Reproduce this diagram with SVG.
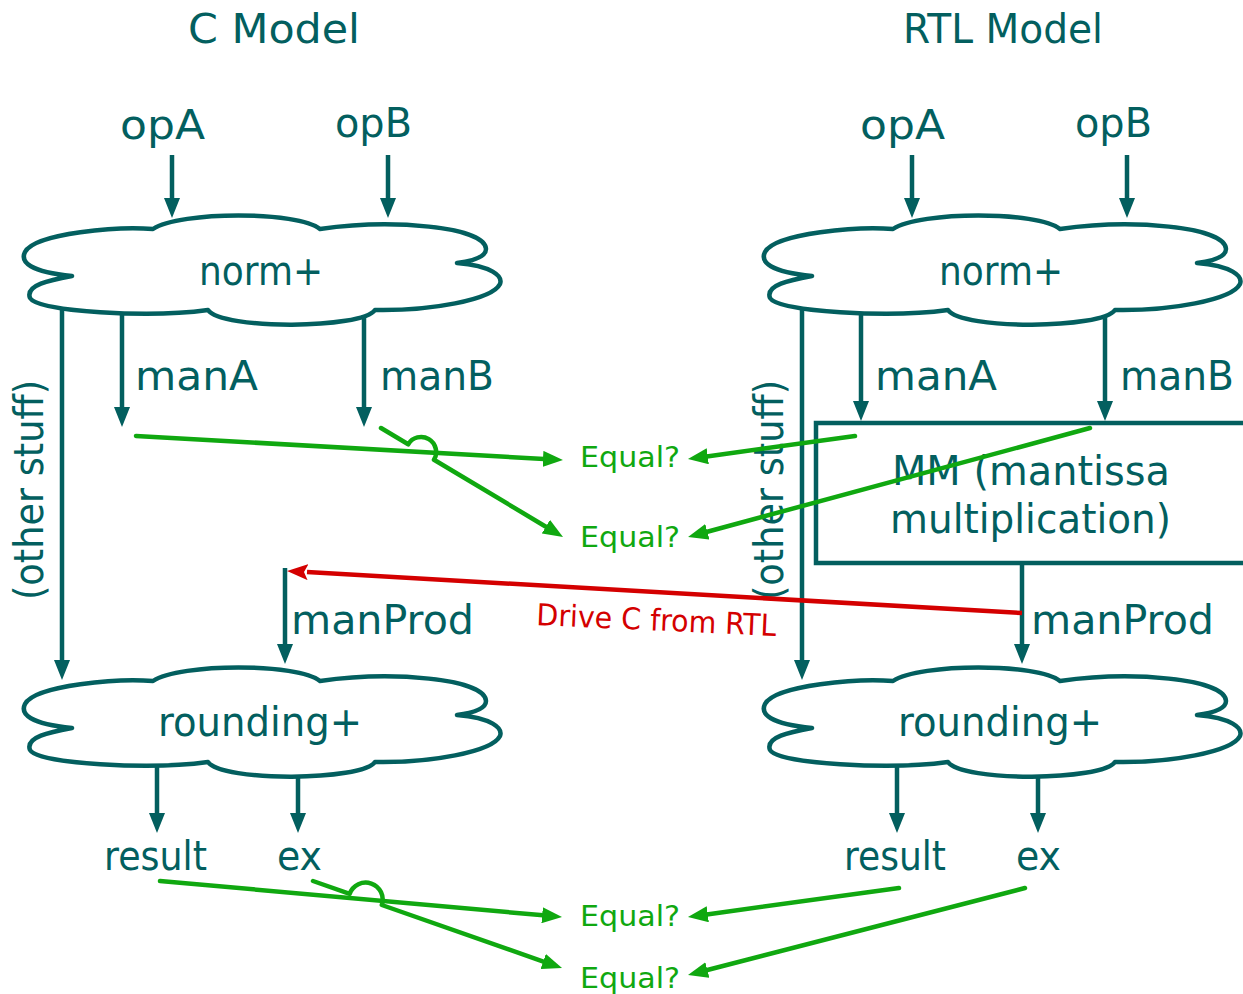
<svg xmlns="http://www.w3.org/2000/svg" width="1243" height="994" viewBox="0 0 1243 994">
<defs>
<style>
.t{font-family:"DejaVu Sans","Liberation Sans",sans-serif;fill:#035f5f;font-size:40px}
.g{font-family:"DejaVu Sans","Liberation Sans",sans-serif;fill:#10a810;font-size:29px}
.r{font-family:"DejaVu Sans","Liberation Sans",sans-serif;fill:#d40000;font-size:30px}
.cloud{fill:#fff;stroke:#035f5f;stroke-width:4.5;stroke-linejoin:round}
.box{fill:none;stroke:#035f5f;stroke-width:4.5}
.tl{fill:none;stroke:#035f5f;stroke-width:4.5;marker-end:url(#ah)}
.gl{fill:none;stroke:#10a810;stroke-width:4.5;stroke-linecap:round;stroke-linejoin:round;marker-end:url(#gh)}
.rl{fill:none;stroke:#d40000;stroke-width:4.5;marker-end:url(#rh)}
</style>
<marker id="ah" markerUnits="userSpaceOnUse" markerWidth="20" markerHeight="16" refX="1" refY="8" orient="auto"><path d="M0,0 L20,8 L0,16 z" fill="#035f5f"/></marker>
<marker id="gh" markerUnits="userSpaceOnUse" markerWidth="20" markerHeight="16" refX="1" refY="8" orient="auto"><path d="M0,0 L20,8 L0,16 z" fill="#10a810"/></marker>
<marker id="rh" markerUnits="userSpaceOnUse" markerWidth="21" markerHeight="16" refX="1" refY="8" orient="auto"><path d="M0,0 L21,8 L0,16 L4,8 z" fill="#d40000"/></marker>
<path id="cloudShape" d="M153,229 C180,211 298,211 320,229 C390,219 485,226 486,249 C486,257 472,261 457,263 C492,266 503,276 500,284 C492,300 430,311 375,310 C362,329 222,330 208,310 C150,318 38,312 30,298 C25,285 50,280 72,276 C30,272 20,262 25,252 C35,233 120,226 153,229 Z"/>
</defs>
<rect width="1243" height="994" fill="#fff"/>

<g id="titles">
<text id="title-c" class="t" x="188" y="43" textLength="172" lengthAdjust="spacingAndGlyphs">C Model</text>
<text id="title-rtl" class="t" x="903" y="43" textLength="200" lengthAdjust="spacingAndGlyphs">RTL Model</text>
</g>

<g id="c-opA"><text class="t" x="120" y="139" textLength="85" lengthAdjust="spacingAndGlyphs">opA</text></g>
<g id="c-opB"><text class="t" x="335" y="137" textLength="77" lengthAdjust="spacingAndGlyphs">opB</text></g>
<g id="r-opA"><text class="t" x="860" y="139" textLength="85" lengthAdjust="spacingAndGlyphs">opA</text></g>
<g id="r-opB"><text class="t" x="1075" y="137" textLength="77" lengthAdjust="spacingAndGlyphs">opB</text></g>

<g id="c-norm">
<use href="#cloudShape" class="cloud"/>
<text class="t" x="199" y="285" textLength="124" lengthAdjust="spacingAndGlyphs">norm+</text>
</g>
<g id="r-norm">
<use href="#cloudShape" class="cloud" transform="translate(740,0)"/>
<text class="t" x="939" y="285" textLength="124" lengthAdjust="spacingAndGlyphs">norm+</text>
</g>

<g id="c-rounding">
<use href="#cloudShape" class="cloud" transform="translate(0,452)"/>
<text class="t" x="158" y="736" textLength="204" lengthAdjust="spacingAndGlyphs">rounding+</text>
</g>
<g id="r-rounding">
<use href="#cloudShape" class="cloud" transform="translate(740,452)"/>
<text class="t" x="898" y="736" textLength="204" lengthAdjust="spacingAndGlyphs">rounding+</text>
</g>

<g id="r-mm">
<rect class="box" x="816" y="423" width="500" height="140"/>
<text class="t" x="892" y="485" textLength="278" lengthAdjust="spacingAndGlyphs">MM (mantissa</text>
<text class="t" x="890" y="533" textLength="281" lengthAdjust="spacingAndGlyphs">multiplication)</text>
</g>

<g id="labels">
<text class="t" x="135" y="390" textLength="123" lengthAdjust="spacingAndGlyphs">manA</text>
<text class="t" x="380" y="390" textLength="114" lengthAdjust="spacingAndGlyphs">manB</text>
<text class="t" x="875" y="390" textLength="122" lengthAdjust="spacingAndGlyphs">manA</text>
<text class="t" x="1120" y="390" textLength="114" lengthAdjust="spacingAndGlyphs">manB</text>
<text class="t" transform="translate(43,600) rotate(-90)" textLength="220" lengthAdjust="spacingAndGlyphs">(other stuff)</text>
<text class="t" transform="translate(783,600) rotate(-90)" textLength="220" lengthAdjust="spacingAndGlyphs">(other stuff)</text>
<text class="t" x="291" y="634" textLength="183" lengthAdjust="spacingAndGlyphs">manProd</text>
<text class="t" x="1031" y="634" textLength="183" lengthAdjust="spacingAndGlyphs">manProd</text>
<text class="t" x="104" y="870" textLength="103" lengthAdjust="spacingAndGlyphs">result</text>
<text class="t" x="277" y="870" textLength="45" lengthAdjust="spacingAndGlyphs">ex</text>
<text class="t" x="844" y="870" textLength="102" lengthAdjust="spacingAndGlyphs">result</text>
<text class="t" x="1016" y="870" textLength="45" lengthAdjust="spacingAndGlyphs">ex</text>
</g>

<g id="compare">
<text class="g" x="580" y="467" textLength="100" lengthAdjust="spacingAndGlyphs">Equal?</text>
<text class="g" x="580" y="547" textLength="100" lengthAdjust="spacingAndGlyphs">Equal?</text>
<text class="g" x="580" y="926" textLength="100" lengthAdjust="spacingAndGlyphs">Equal?</text>
<text class="g" x="580" y="988" textLength="100" lengthAdjust="spacingAndGlyphs">Equal?</text>
</g>

<g id="connectors">
<path class="tl" d="M172,155 V199"/>
<path class="tl" d="M388,155 V199"/>
<path class="tl" d="M912,155 V199"/>
<path class="tl" d="M1127,155 V199"/>
<path class="tl" d="M62,309 V661"/>
<path class="tl" d="M122,313 V408"/>
<path class="tl" d="M364,315 V408"/>
<path class="tl" d="M802,309 V661"/>
<path class="tl" d="M861,313 V402"/>
<path class="tl" d="M1105,315 V402"/>
<path class="tl" d="M285,568 V645"/>
<path class="tl" d="M1022,565 V645"/>
<path class="tl" d="M157,766 V814"/>
<path class="tl" d="M298,776 V814"/>
<path class="tl" d="M897,766 V814"/>
<path class="tl" d="M1038,776 V814"/>

<path class="gl" d="M136,436 L544,458.9"/>
<path class="gl" d="M381,428 L408.2,444.3 A15,15 0 0 1 434,459.7 L546.7,527.2"/>
<path class="gl" d="M855,436 L706.8,456.4"/>
<path class="gl" d="M1090,428 L706.4,532"/>
<path class="gl" d="M160,881 L543.1,915.3"/>
<path class="gl" d="M313,881 L349.7,893.8 A17,17 0 0 1 381.8,905 L544.1,961.8"/>
<path class="gl" d="M899,888 L706.8,914.4"/>
<path class="gl" d="M1025,888 L706.4,970.2"/>

<path class="rl" d="M1022,613 L307,572.1"/>
<text class="r" transform="translate(536,625) rotate(2.6)" textLength="240" lengthAdjust="spacingAndGlyphs">Drive C from RTL</text>
</g>
</svg>
